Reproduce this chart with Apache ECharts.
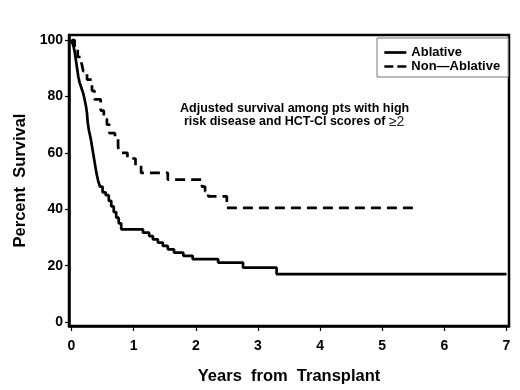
<!DOCTYPE html>
<html>
<head>
<meta charset="utf-8">
<script src="https://cdn.jsdelivr.net/npm/echarts@6/dist/echarts.min.js"></script>
<style>
  html, body { margin: 0; padding: 0; background: #fff; }
  #chart { width: 520px; height: 390px; }
</style>
</head>
<body>
<div id="chart"></div>
<script>
var xTicks = [0, 1, 2, 3, 4, 5, 6, 7];
var yTicks = [0, 20, 40, 60, 80, 100];

// Ablative (solid)
var ablativeYears = [0, 0.03, 0.05, 0.07, 0.09, 0.11, 0.13, 0.16, 0.19, 0.21, 0.23, 0.25, 0.26, 0.28, 0.31, 0.34, 0.37, 0.40, 0.43, 0.46, 0.50, 0.55, 0.60, 0.64, 0.68, 0.72, 0.76, 0.80, 1.15, 1.25, 1.31, 1.39, 1.47, 1.55, 1.65, 1.80, 1.95, 2.36, 2.76, 3.30, 7.0];
var ablativeSurvival = [100, 98, 96, 93, 90, 87, 85, 83, 81, 79, 77, 74, 71, 68, 65, 61, 57, 53, 50, 48, 46, 45, 43, 41, 39, 37, 35, 32.9, 31.7, 30.5, 29.3, 28.2, 27.0, 25.8, 24.6, 23.5, 22.3, 21.1, 19.3, 17.0, 17.0];

// Non-Ablative (dashed)
var nonAblativeYears = [0, 0.05, 0.10, 0.16, 0.19, 0.25, 0.33, 0.37, 0.47, 0.52, 0.57, 0.61, 0.70, 0.75, 0.78, 0.90, 1.03, 1.12, 1.55, 2.10, 2.15, 2.20, 2.50, 5.55];
var nonAblativeSurvival = [100, 97, 94, 92, 89, 86, 82, 79, 75, 72, 70, 67, 65, 62, 60, 58, 55.5, 52.9, 50.5, 48, 46.4, 44.6, 40.5, 40.5];

function zip(xs, ys) {
    return xs.map(function (x, i) { return [x, ys[i]]; });
}

var chart = echarts.init(document.getElementById('chart'), null, { renderer: 'canvas' });

var font = 'Arial, "Liberation Sans", Helvetica, sans-serif';

var option = {
    backgroundColor: '#fff',
    animation: false,
    grid: {
        left: 69, top: 35, right: 11, bottom: 63,
        show: true, borderColor: '#000', borderWidth: 2.5
    },
    legend: {
        orient: 'vertical',
        left: 377, top: 38,
        padding: [8, 8, 4, 6],
        itemWidth: 22, itemHeight: 10, itemGap: 1,
        borderColor: '#777', borderWidth: 1,
        backgroundColor: '#fff',
        itemStyle: { opacity: 0 },
        textStyle: { fontFamily: font, fontWeight: 'bold', fontSize: 13, color: '#000', lineHeight: 11 },
        data: [
            { name: 'Ablative', lineStyle: { width: 2.7 } },
            { name: 'Non\u2014Ablative', lineStyle: { width: 2.7, type: [9, 4] } }
        ]
    },
    xAxis: {
        type: 'value',
        min: -0.04, max: 7.04,
        name: 'Years  from  Transplant',
        nameLocation: 'middle', nameGap: 42,
        nameTextStyle: { fontFamily: font, fontWeight: 'bold', fontSize: 16.5, color: '#000' },
        axisLine: { onZero: false, lineStyle: { color: '#000', width: 2.5 } },
        axisTick: { show: true, customValues: xTicks, length: 5, lineStyle: { color: '#000', width: 1.2 } },
        axisLabel: { customValues: xTicks, margin: 13, fontFamily: font, fontWeight: 'bold', fontSize: 14, color: '#000' },
        splitLine: { show: false }
    },
    yAxis: {
        type: 'value',
        min: -1.4, max: 101.8,
        name: 'Percent  Survival',
        nameLocation: 'middle', nameGap: 38,
        nameTextStyle: { fontFamily: font, fontWeight: 'bold', fontSize: 16.5, color: '#000' },
        axisLine: { show: true, onZero: false, lineStyle: { color: '#000', width: 2.5 } },
        axisTick: { show: true, customValues: yTicks, length: 4, lineStyle: { color: '#000', width: 1.2 } },
        axisLabel: { customValues: yTicks, margin: 6, fontFamily: font, fontWeight: 'bold', fontSize: 14, color: '#000' },
        splitLine: { show: false }
    },
    graphic: [
        {
            type: 'text', left: 180, top: 102,
            style: {
                text: 'Adjusted survival among pts with high',
                font: 'bold 12.5px ' + font, fill: '#000'
            }
        },
        {
            type: 'text', left: 184, top: 115,
            style: {
                text: '{a|risk disease and HCT-CI scores of }{b|\u22652}',
                rich: {
                    a: { font: 'bold 12.5px ' + font, fill: '#000' },
                    b: { font: '14px ' + font, fill: '#222' }
                }
            }
        }
    ],
    series: [
        {
            name: 'Ablative',
            type: 'line',
            step: 'end',
            symbol: 'none',
            data: zip(ablativeYears, ablativeSurvival),
            lineStyle: { color: '#000', width: 2.7, type: 'solid' },
            itemStyle: { color: '#000' }
        },
        {
            name: 'Non\u2014Ablative',
            type: 'line',
            step: 'end',
            symbol: 'none',
            data: zip(nonAblativeYears, nonAblativeSurvival),
            lineStyle: { color: '#000', width: 2.7, type: [10, 6] },
            itemStyle: { color: '#000' }
        }
    ]
};

chart.setOption(option);
</script>
</body>
</html>
